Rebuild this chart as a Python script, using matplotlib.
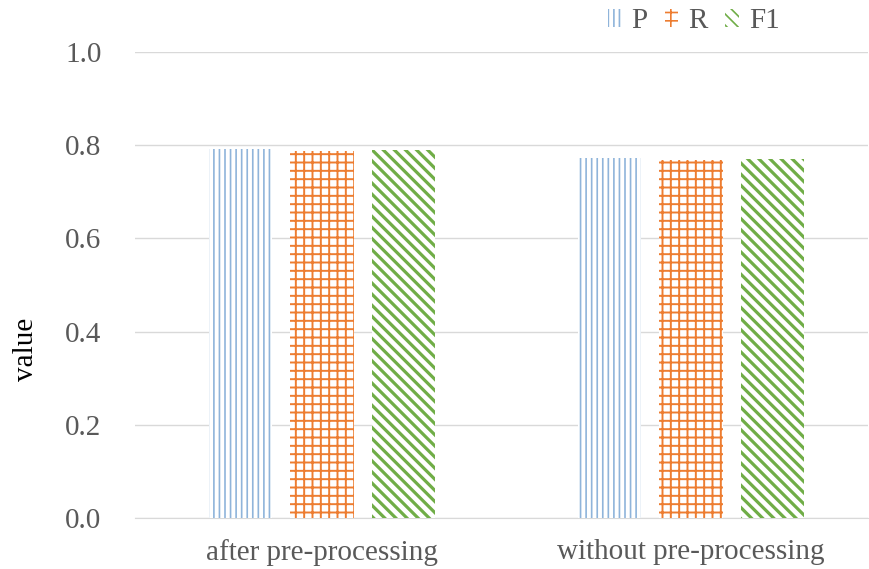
import matplotlib.pyplot as plt
import numpy as np

plt.rcParams['font.family'] = ['Liberation Serif', 'DejaVu Serif']

categories = ["after pre-processing", "without pre-processing"]
series = ["P", "R", "F1"]
P_vals = [0.792, 0.773]
R_vals = [0.788, 0.768]
F1_vals = [0.790, 0.771]

colors = {"P": "#8fb4da", "R": "#ed7d31", "F1": "#70ad47"}
hatches = {"P": "|||", "R": "++", "F1": "\\\\\\"}
hatch_lw = {"P": 1.2, "R": 1.4, "F1": 2.3}

fig = plt.figure(figsize=(8.69, 5.69), dpi=100)
ax = fig.add_axes([0.155, 0.0896, 0.844, 0.819])

x = np.arange(len(categories))
width = 0.172
step = 0.221
text_col = "#595959"

for i, (name, vals) in enumerate(zip(series, [P_vals, R_vals, F1_vals])):
    bars = ax.bar(x + (i - 1) * step, vals, width, facecolor="white",
                  edgecolor=colors[name], hatch=hatches[name], linewidth=0,
                  label=name, zorder=3)
    for b in bars:
        if hasattr(b, "set_hatch_linewidth"):
            b.set_hatch_linewidth(hatch_lw[name])

ax.set_xlim(-0.508, 1.48)
ax.set_ylim(0, 1.0)
ax.set_yticks([0, 0.2, 0.4, 0.6, 0.8, 1.0])
ax.set_yticklabels(["0.0", "0.2", "0.4", "0.6", "0.8", "1.0"])
ax.set_xticks(x)
ax.set_xticklabels(categories)
ax.tick_params(axis='both', length=0, labelsize=21, colors=text_col)
ax.tick_params(axis='x', pad=15)
ax.tick_params(axis='y', pad=24)
ax.grid(axis='y', color='#d9d9d9', linewidth=1, zorder=0)
for s in ['top', 'right', 'left']:
    ax.spines[s].set_visible(False)
ax.spines['bottom'].set_color('#d9d9d9')
ax.set_axisbelow(True)

ax.set_ylabel("value", fontsize=21, color="black")
ax.yaxis.set_label_coords(-0.131, 0.362)

leg = ax.legend(loc='upper right', bbox_to_anchor=(0.915, 1.15), ncol=3, frameon=False,
                fontsize=21, handlelength=0.45, handleheight=0.6, handletextpad=0.35,
                columnspacing=0.6, labelcolor=text_col)
for h in leg.legend_handles:
    if hasattr(h, "set_hatch_linewidth"):
        h.set_hatch_linewidth(1.2)

fig.savefig("out.png", dpi=100)
